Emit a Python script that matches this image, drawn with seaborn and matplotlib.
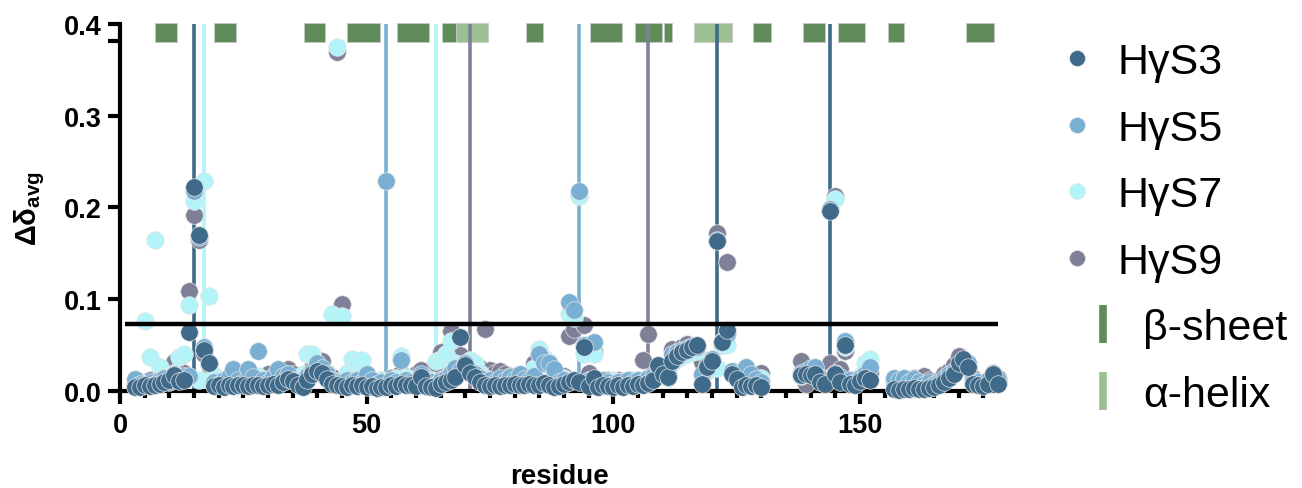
import numpy as np
import pandas as pd
import matplotlib
matplotlib.use("Agg")
import matplotlib.pyplot as plt
from matplotlib.lines import Line2D
import seaborn as sns

nan = np.nan

# Residue numbers covered by the chemical-shift data
residue = list(range(3, 179))

# Average chemical-shift perturbation per residue, one list per construct
hys3 = [
    0.004, 0.004, 0.006, 0.005, 0.007, 0.008, 0.010, 0.012, 0.017, 0.011,
    0.012, 0.064, 0.222, 0.170, 0.045, 0.031, 0.005, 0.006, 0.004, 0.006,
    0.005, 0.007, 0.006, 0.005, 0.007, 0.006, 0.005, 0.006, 0.008, 0.007,
    0.010, 0.013, 0.011, 0.006, 0.004, 0.012, 0.019, 0.022, 0.020, 0.013,
    0.008, 0.006, 0.005, 0.004, 0.006, 0.005, 0.007, 0.004, 0.005, 0.003,
    0.004, 0.004, 0.006, 0.005, 0.008, 0.006, 0.006, 0.005, 0.015, 0.005,
    0.004, 0.003, 0.008, 0.010, 0.012, 0.015, 0.059, 0.028, 0.020, 0.015,
    0.010, 0.007, 0.005, 0.006, 0.005, 0.007, 0.006, 0.008, 0.007, 0.006,
    0.008, 0.007, 0.006, 0.009, 0.007, 0.004, 0.005, 0.008, 0.010, 0.012,
    0.010, 0.048, 0.005, 0.014, 0.004, 0.006, 0.005, 0.004, 0.006, 0.004,
    0.007, 0.005, 0.008, 0.007, 0.009, 0.012, 0.028, 0.018, 0.015, 0.033,
    0.038, 0.042, 0.045, 0.048, 0.050, 0.008, 0.026, 0.033, 0.163, 0.053,
    0.066, 0.018, 0.013, 0.004, 0.006, 0.005, 0.006, 0.004, nan, nan,
    nan, nan, nan, nan, nan, 0.017, 0.018, 0.017, 0.019, 0.010,
    0.008, 0.196, 0.018, 0.010, 0.050, 0.008, 0.007, 0.011, 0.014, 0.012,
    nan, nan, nan, nan, 0.002, 0.001, 0.002, 0.002, 0.003, 0.002,
    0.002, 0.003, 0.004, 0.006, 0.010, 0.014, 0.018, 0.030, 0.035, 0.026,
    0.008, 0.006, 0.005, 0.008, 0.018, 0.008,
]

hys5 = [
    0.013, 0.008, 0.006, 0.010, 0.008, 0.012, 0.014, 0.010, 0.018, 0.014,
    0.016, 0.016, 0.218, 0.168, 0.048, 0.030, 0.010, 0.008, 0.012, 0.015,
    0.024, 0.012, 0.010, 0.024, 0.015, 0.044, 0.012, 0.010, 0.015, 0.024,
    0.016, 0.018, 0.012, 0.010, 0.008, 0.016, 0.022, 0.030, 0.025, 0.018,
    0.012, 0.010, 0.010, 0.012, 0.010, 0.012, 0.010, 0.018, 0.012, 0.008,
    0.010, 0.229, 0.012, 0.010, 0.034, 0.012, 0.010, 0.008, 0.018, 0.012,
    0.010, 0.008, 0.012, 0.014, 0.020, 0.025, 0.022, 0.030, 0.022, 0.018,
    0.014, 0.010, 0.012, 0.010, 0.014, 0.012, 0.015, 0.013, 0.018, 0.013,
    0.012, 0.016, 0.040, 0.030, 0.030, 0.024, 0.010, 0.012, 0.097, 0.088,
    0.218, 0.050, 0.012, 0.053, 0.010, 0.012, 0.010, 0.008, 0.010, 0.008,
    0.012, 0.010, 0.012, 0.010, 0.014, 0.016, 0.026, 0.020, 0.018, 0.040,
    0.042, 0.045, 0.047, 0.049, 0.048, 0.018, 0.028, 0.035, 0.165, 0.055,
    0.062, 0.022, 0.019, 0.015, 0.026, 0.018, 0.013, 0.010, nan, nan,
    nan, nan, nan, nan, nan, 0.020, 0.022, 0.025, 0.026, 0.015,
    0.012, 0.198, 0.020, 0.015, 0.054, 0.012, 0.010, 0.014, 0.018, 0.026,
    nan, nan, nan, nan, 0.014, 0.012, 0.014, 0.010, 0.013, 0.010,
    0.008, 0.010, 0.008, 0.010, 0.014, 0.018, 0.022, 0.028, 0.032, 0.030,
    0.012, 0.010, 0.008, 0.012, 0.020, 0.012,
]

hys7 = [
    0.008, 0.010, 0.076, 0.037, 0.165, 0.026, 0.015, 0.012, 0.020, 0.037,
    0.040, 0.094, 0.207, 0.012, 0.229, 0.103, 0.017, 0.010, 0.012, 0.014,
    0.018, 0.010, 0.012, 0.014, 0.012, 0.016, 0.010, 0.012, 0.014, 0.018,
    0.020, 0.016, 0.012, 0.014, 0.018, 0.040, 0.040, 0.025, 0.020, 0.018,
    0.084, 0.375, 0.082, 0.020, 0.035, 0.030, 0.034, 0.015, 0.012, 0.010,
    0.012, 0.010, 0.012, 0.014, 0.038, 0.015, 0.012, 0.010, 0.012, 0.010,
    0.012, 0.033, 0.035, 0.040, 0.055, 0.030, 0.028, 0.025, 0.034, 0.030,
    0.020, 0.014, 0.012, 0.010, 0.012, 0.010, 0.012, 0.014, 0.012, 0.010,
    0.012, 0.025, 0.046, 0.036, 0.032, 0.020, 0.012, 0.014, 0.084, 0.080,
    0.212, 0.040, 0.012, 0.040, 0.010, 0.008, 0.010, 0.012, 0.010, 0.008,
    0.010, 0.012, 0.010, 0.012, 0.012, 0.014, 0.020, 0.016, 0.014, 0.030,
    0.035, 0.038, 0.040, 0.042, 0.044, 0.016, 0.022, 0.030, 0.025, 0.050,
    0.050, 0.020, 0.016, 0.014, 0.018, 0.016, 0.012, 0.014, nan, nan,
    nan, nan, nan, nan, nan, 0.016, 0.018, 0.020, 0.022, 0.012,
    0.010, 0.015, 0.209, 0.012, 0.048, 0.010, 0.012, 0.016, 0.030, 0.035,
    nan, nan, nan, nan, 0.012, 0.010, 0.012, 0.008, 0.010, 0.008,
    0.006, 0.008, 0.006, 0.008, 0.012, 0.016, 0.020, 0.026, 0.030, 0.028,
    0.010, 0.008, 0.006, 0.010, 0.015, 0.010,
]

hys9 = [
    0.006, 0.008, 0.010, 0.012, 0.010, 0.014, 0.018, 0.024, 0.032, 0.024,
    0.020, 0.109, 0.192, 0.165, 0.040, 0.028, 0.012, 0.010, 0.012, 0.014,
    0.016, 0.012, 0.014, 0.012, 0.016, 0.014, 0.012, 0.018, 0.016, 0.018,
    0.020, 0.024, 0.018, 0.012, 0.010, 0.015, 0.025, 0.034, 0.033, 0.020,
    0.015, 0.370, 0.095, 0.015, 0.012, 0.014, 0.012, 0.016, 0.012, 0.010,
    0.012, 0.010, 0.014, 0.012, 0.020, 0.014, 0.012, 0.018, 0.023, 0.015,
    0.014, 0.030, 0.042, 0.040, 0.065, 0.030, 0.039, 0.030, 0.024, 0.020,
    0.025, 0.068, 0.023, 0.020, 0.022, 0.018, 0.016, 0.014, 0.016, 0.014,
    0.016, 0.030, 0.040, 0.035, 0.028, 0.020, 0.014, 0.016, 0.060, 0.068,
    0.212, 0.072, 0.020, 0.044, 0.012, 0.010, 0.012, 0.010, 0.012, 0.010,
    0.012, 0.010, 0.011, 0.034, 0.0625, 0.016, 0.024, 0.020, 0.018, 0.046,
    0.042, 0.048, 0.051, 0.046, 0.040, 0.032, 0.024, 0.030, 0.172, 0.050,
    0.141, 0.020, 0.018, 0.012, 0.016, 0.018, 0.014, 0.020, nan, nan,
    nan, nan, nan, nan, nan, 0.033, 0.008, 0.020, 0.018, 0.014,
    0.012, 0.030, 0.212, 0.024, 0.044, 0.012, 0.010, 0.014, 0.018, 0.020,
    nan, nan, nan, nan, 0.010, 0.008, 0.010, 0.012, 0.014, 0.012,
    0.016, 0.012, 0.010, 0.012, 0.018, 0.022, 0.028, 0.038, 0.030, 0.025,
    0.014, 0.010, 0.008, 0.012, 0.020, 0.014,
]

constructs = ["HγS3", "HγS5", "HγS7", "HγS9"]
colors = {"HγS3": "#3f6a8a", "HγS5": "#79afd3", "HγS7": "#b3f4f8", "HγS9": "#7e8097"}

# Residues flagged per construct (vertical guide lines)
flagged = {"HγS3": [15, 121, 144], "HγS5": [54, 93], "HγS7": [17, 64], "HγS9": [71, 107]}

# Significance cut-off for the shift perturbation
threshold = 0.0735

# Secondary-structure elements (start, end residue)
beta_sheet = [(7.1, 11.5), (19.1, 23.5), (37.2, 41.6), (46.1, 52.7), (56.2, 62.6),
              (65.3, 68.2), (82.4, 85.8), (95.3, 101.8), (104.4, 109.8), (110.3, 112.0),
              (128.4, 132.0), (138.5, 143.0), (145.5, 151.0), (155.6, 159.0), (171.6, 177.2)]
alpha_helix = [(68.2, 74.6), (116.4, 124.0)]
ss_colors = {"β-sheet": "#5f8c59", "α-helix": "#9dbf94"}

series = {"HγS3": hys3, "HγS5": hys5, "HγS7": hys7, "HγS9": hys9}
df = pd.concat(
    [pd.DataFrame({"residue": residue, "shift": series[c], "construct": c}) for c in constructs],
    ignore_index=True,
)

sns.set_theme(style="ticks")
plt.rcParams["font.family"] = ["Liberation Sans", "DejaVu Sans"]
plt.rcParams["mathtext.fontset"] = "custom"
plt.rcParams["mathtext.bf"] = "Liberation Sans:bold"
plt.rcParams["mathtext.rm"] = "Liberation Sans"
for key in ["text.color", "axes.labelcolor", "xtick.color", "ytick.color",
            "xtick.labelcolor", "ytick.labelcolor"]:
    plt.rcParams[key] = "black"

fig = plt.figure(figsize=(13.02, 4.89), dpi=100)
ax = fig.add_axes([0.0922, 0.1984, 0.6743, 0.7505])

# Secondary structure strip along the top
ax.broken_barh([(s, e - s) for s, e in beta_sheet], (0.380, 0.021),
               facecolors=ss_colors["β-sheet"], edgecolors="#c9c9c9", linewidth=0.6,
               clip_on=False, zorder=2)
ax.broken_barh([(s, e - s) for s, e in alpha_helix], (0.380, 0.021),
               facecolors=ss_colors["α-helix"], edgecolors="#c9c9c9", linewidth=0.6,
               clip_on=False, zorder=2)

# Guide lines for flagged residues
for c in constructs:
    for r in flagged[c]:
        ax.axvline(r, ymin=0, ymax=1.0, color=colors[c], lw=2.6, zorder=2.2)

# Scatter, lowest construct drawn first so HγS3 sits on top
for c in ["HγS9", "HγS7", "HγS5", "HγS3"]:
    sub = df[df["construct"] == c]
    sns.scatterplot(data=sub, x="residue", y="shift", color=colors[c], s=160,
                    edgecolor="#e6e6e6", linewidth=0.5, ax=ax, legend=False,
                    clip_on=False, zorder=3)

ax.hlines(threshold, 1, 178, color="black", lw=3.2, zorder=4)

ax.set_xlim(0, 178)
ax.set_ylim(0, 0.4)
ax.set_xticks([0, 50, 100, 150])
ax.set_xticks(np.arange(5, 178, 5), minor=True)
ax.set_yticks([0.0, 0.1, 0.2, 0.3, 0.382, 0.4])
ax.set_yticklabels(["0.0", "0.1", "0.2", "0.3", "", "0.4"])
for lbl in ax.get_xticklabels() + ax.get_yticklabels():
    lbl.set_fontweight("bold")
ax.tick_params(axis="both", which="major", length=9, width=3, labelsize=19.5, pad=4, color="black")
ax.tick_params(axis="x", which="minor", length=5, width=3, color="black")
ax.tick_params(axis="x", which="major", pad=6)
sns.despine(ax=ax)
for side in ["left", "bottom"]:
    ax.spines[side].set_linewidth(3)
    ax.spines[side].set_color("black")

ax.set_xlabel("residue", fontsize=20, fontweight="bold", labelpad=18)
ax.set_ylabel(r"$\mathbf{\Delta\delta_{avg}}$", fontsize=21, labelpad=12)

# Legends: constructs, then secondary structure
dot_handles = [Line2D([], [], marker="o", ls="", markersize=11.5, color=colors[c],
                      markeredgecolor="#e6e6e6", markeredgewidth=0.5) for c in constructs]
leg1 = ax.legend(dot_handles, constructs, loc="upper left", bbox_to_anchor=(1055 / 1302, 1 - 43 / 489),
                 bbox_transform=fig.transFigure, frameon=False, fontsize=31,
                 handlelength=1.0, handletextpad=0.45, labelspacing=0.62, borderpad=0, borderaxespad=0)
ax.add_artist(leg1)
bar_handles = [Line2D([], [], marker="|", ls="", markersize=27, markeredgewidth=5.5,
                      color=ss_colors[k]) for k in ss_colors]
ax.legend(bar_handles, list(ss_colors), loc="upper left", bbox_to_anchor=(1081 / 1302, 1 - 309 / 489),
          bbox_transform=fig.transFigure, frameon=False, fontsize=31,
          handlelength=1.0, handletextpad=0.45, labelspacing=0.62, borderpad=0, borderaxespad=0)

fig.savefig("out.png", dpi=100)
